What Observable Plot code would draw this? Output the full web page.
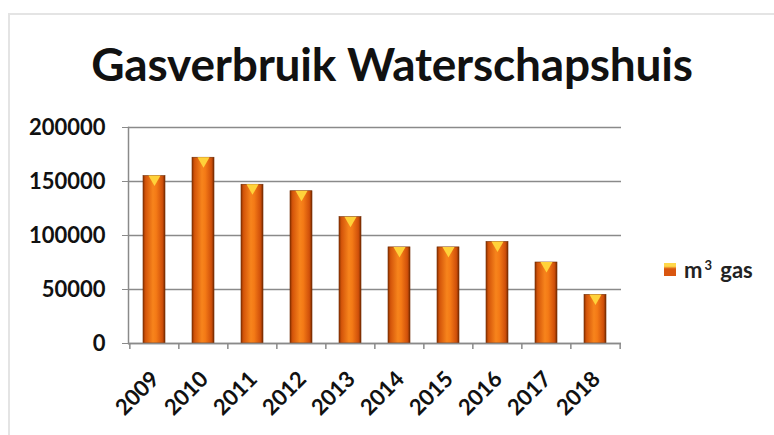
<!DOCTYPE html>
<html>
<head>
<meta charset="utf-8">
<script src="https://cdn.jsdelivr.net/npm/d3@7"></script>
<script src="https://cdn.jsdelivr.net/npm/@observablehq/plot@0.6"></script>
<style>
  html, body { margin: 0; padding: 0; background: #fff; }
  #wrap { position: relative; width: 774px; height: 435px; overflow: hidden; font-family: Lato, "Open Sans", sans-serif; }
  #frame { position: absolute; left: 8px; top: 13px; width: 820px; height: 500px; border: 2px solid #e4e4e4; box-sizing: border-box; }
  #title { position: absolute; left: 0; width: 784px; top: 36px; text-align: center; font-weight: 700; font-size: 46px; color: #111; letter-spacing: -0.2px; white-space: nowrap; }
  #chart { position: absolute; left: 0; top: 100px; }
  #legend { position: absolute; left: 664px; top: 256px; display: flex; align-items: center; font-weight: 700; font-size: 22px; color: #222; }
  #legend .sw { width: 12px; height: 13px; margin-right: 8px; background: linear-gradient(to bottom, #ffd84a 0%, #ffd84a 25%, #d9560f 45%, #d9560f 100%); }
  #legend sup { font-size: 13px; margin: 0 3px 0 2px; }
</style>
</head>
<body>
<div id="wrap">
  <div id="frame"></div>
  <div id="title">Gasverbruik Waterschapshuis</div>
  <div id="chart"></div>
  <div id="legend"><div class="sw"></div><span>m<sup>3</sup> gas</span></div>
</div>
<script>
const years = ["2009","2010","2011","2012","2013","2014","2015","2016","2017","2018"];
const gas = [155000, 172000, 147000, 141000, 117000, 89000, 89000, 94000, 75000, 45000];
const yTicks = [0, 50000, 100000, 150000, 200000];
const seriesName = "m³ gas";

const data = years.map((year, i) => ({year, value: gas[i], series: seriesName}));

const W = 774, H = 335, mL = 128, mR = 153, mT = 27, mB = 92;
const step = (W - mL - mR) / years.length;

const defs = () => {
  const g = d3.create("svg:defs");
  const lg = g.append("linearGradient").attr("id", "barGrad").attr("x1", "0").attr("x2", "1").attr("y1", "0").attr("y2", "0");
  [["0%", "#8f3300"], ["12%", "#d4550a"], ["45%", "#f7841c"], ["60%", "#f47a16"], ["88%", "#d0500a"], ["100%", "#7a2c00"]]
    .forEach(([o, c]) => lg.append("stop").attr("offset", o).attr("stop-color", c));
  return g.node();
};

const chart = Plot.plot({
  width: W,
  height: H,
  marginLeft: mL,
  marginRight: mR,
  marginTop: mT,
  marginBottom: mB,
  style: { fontFamily: "Lato, 'Open Sans', sans-serif", background: "transparent", overflow: "visible" },
  x: { domain: years, paddingInner: 0.55, paddingOuter: 0.275, label: null },
  y: { domain: [0, 200000], label: null },
  marks: [
    defs,
    Plot.gridY(yTicks, { stroke: "#8a8a8a", strokeOpacity: 1, strokeWidth: 1.5 }),
    Plot.axisY(yTicks, {
      tickSize: 6, tickPadding: 17, tickFormat: d3.format("d"),
      fontSize: 22, fontWeight: 700, fill: "#111", stroke: "#8a8a8a", label: null
    }),
    Plot.axisX({
      tickSize: 0, tickPadding: 32, tickRotate: -45, dx: 1,
      fontSize: 22, fontWeight: 700, fill: "#111", label: null
    }),
    Plot.ruleX(years, { x: d => d, y1: 0, y2: 0, insetBottom: -6, dx: -step / 2, stroke: "#8a8a8a", strokeWidth: 1.5 }),
    Plot.ruleX([years[years.length - 1]], { x: d => d, y1: 0, y2: 0, insetBottom: -6, dx: step / 2, stroke: "#8a8a8a", strokeWidth: 1.5 }),
    Plot.barY(data, { x: "year", y: "value", fill: "url(#barGrad)", stroke: "#6e2a00", strokeWidth: 0.6 }),
    Plot.dot(data, { x: "year", y: "value", symbol: "triangle", rotate: 180, r: 4.5, fill: "#ffd23a", dy: 3 }),
    Plot.frame({ anchor: "left", stroke: "#8a8a8a", strokeWidth: 1.5 }),
    Plot.ruleY([0], { stroke: "#8a8a8a", strokeWidth: 1.5 })
  ]
});
document.getElementById("chart").append(chart);
</script>
</body>
</html>
